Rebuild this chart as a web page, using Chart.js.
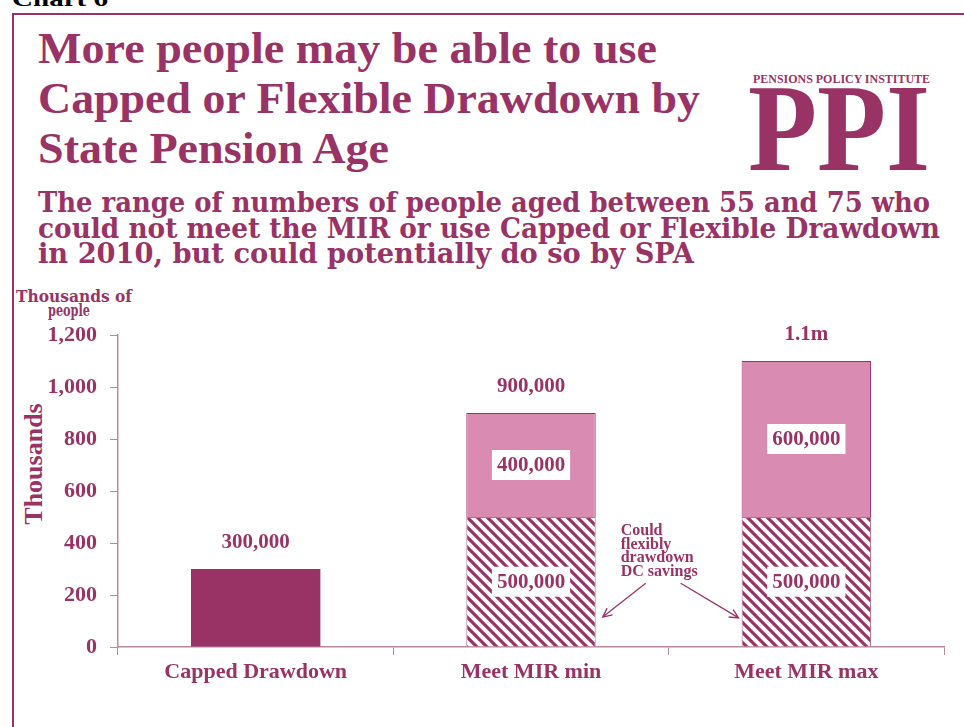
<!DOCTYPE html>
<html>
<head>
<meta charset="utf-8">
<title>Capped or Flexible Drawdown by SPA</title>
<script src="https://cdn.jsdelivr.net/npm/chart.js@4/dist/chart.umd.min.js"></script>
<style>
  html, body { margin: 0; padding: 0; background: #fff; }
  #wrap { position: relative; width: 964px; height: 727px; overflow: hidden; }
  #chart, #head { position: absolute; left: 0; top: 0; }
  .serif { font-family: "Liberation Serif", serif; font-weight: bold; }
  .sub { font-family: "DejaVu Serif", serif; font-weight: bold; }
</style>
</head>
<body>
<div id="wrap">
  <svg id="head" width="964" height="727" xmlns="http://www.w3.org/2000/svg">
    <text class="serif" x="12" y="6" font-size="22" fill="#000" textLength="96" lengthAdjust="spacingAndGlyphs">Chart 6</text>
    <path d="M13,727 V14 H964" fill="none" stroke="#993366" stroke-width="2"/>

    <g class="serif" fill="#993366" font-size="45">
      <text x="38" y="63" textLength="619" lengthAdjust="spacingAndGlyphs">More people may be able to use</text>
      <text x="38" y="113" textLength="662" lengthAdjust="spacingAndGlyphs">Capped or Flexible Drawdown by</text>
      <text x="38" y="163" textLength="351" lengthAdjust="spacingAndGlyphs">State Pension Age</text>
    </g>

    <g class="serif" fill="#993366">
      <text x="753" y="83" font-size="12" textLength="177" lengthAdjust="spacingAndGlyphs">PENSIONS POLICY INSTITUTE</text>
      <text x="748" y="170" font-size="125" textLength="182" lengthAdjust="spacingAndGlyphs">PPI</text>
    </g>

    <g class="sub" fill="#993366" font-size="27">
      <text x="38" y="212" textLength="892" lengthAdjust="spacingAndGlyphs">The range of numbers of people aged between 55 and 75 who</text>
      <text x="38" y="238" textLength="902" lengthAdjust="spacingAndGlyphs">could not meet the MIR or use Capped or Flexible Drawdown</text>
      <text x="38" y="263" textLength="656" lengthAdjust="spacingAndGlyphs">in 2010, but could potentially do so by SPA</text>
    </g>

    <g class="sub" fill="#993366" font-size="16">
      <text x="16" y="302" textLength="116" lengthAdjust="spacingAndGlyphs">Thousands of</text>
      <text x="48" y="316" textLength="42" lengthAdjust="spacingAndGlyphs">people</text>
    </g>
    <text class="serif" fill="#993366" font-size="26" text-anchor="middle"
          transform="translate(42,464) rotate(-90)">Thousands</text>
  </svg>
  <canvas id="chart" width="964" height="727"></canvas>
</div>

<script>
// values in thousands of people
const categories = ['Capped Drawdown', 'Meet MIR min', 'Meet MIR max'];
const cappedDrawdown = [300, 0, 0];
const flexibleDC = [0, 500, 500];
const meetMirOther = [0, 400, 600];
const yTicks = [0, 200, 400, 600, 800, 1000, 1200];
const noteLines = ['Could', 'flexibly', 'drawdown', 'DC savings'];

const PLUM = '#993366';
const PINK = '#d98bb1';
const AXIS = '#b8899f';
const FONT = '"Liberation Serif", serif';

function makeStripes() {
	const size = 10;
	const c = document.createElement('canvas');
	c.width = size;
	c.height = size;
	const g = c.getContext('2d');
	g.fillStyle = '#fff';
	g.fillRect(0, 0, size, size);
	g.strokeStyle = PLUM;
	g.lineWidth = 3.2;
	g.beginPath();
	g.moveTo(-2, -2); g.lineTo(size + 2, size + 2);
	g.moveTo(-2, size - 2); g.lineTo(2, size + 2);
	g.moveTo(size - 2, -2); g.lineTo(size + 2, 2);
	g.stroke();
	return g.createPattern(c, 'repeat');
}

function formatTotal(v) {
	if (v >= 1000) return (v / 1000) + 'm';
	return (v * 1000).toLocaleString('en-GB');
}

// totals above each stack, boxed figures inside the split bars
const valueLabels = {
	id: 'valueLabels',
	afterDatasetsDraw(chart) {
		const ctx = chart.ctx;
		const sets = chart.data.datasets;
		ctx.save();
		ctx.font = 'bold 21px ' + FONT;
		ctx.textAlign = 'center';
		ctx.textBaseline = 'middle';

		categories.forEach((cat, i) => {
			let total = 0;
			let topEl = null;
			sets.forEach((ds, d) => {
				const v = ds.data[i];
				if (!v) return;
				total += v;
				topEl = chart.getDatasetMeta(d).data[i];
			});
			ctx.fillStyle = PLUM;
			ctx.fillText(formatTotal(total), topEl.x, topEl.y - 26);
		});

		[1, 2].forEach(d => {
			const meta = chart.getDatasetMeta(d);
			sets[d].data.forEach((v, i) => {
				if (!v) return;
				const el = meta.data[i];
				const cy = (el.y + el.base) / 2;
				const txt = formatTotal(v);
				const w = ctx.measureText(txt).width + 10;
				ctx.fillStyle = '#fff';
				ctx.fillRect(el.x - w / 2, cy - 15, w, 30);
				ctx.fillStyle = PLUM;
				ctx.fillText(txt, el.x, cy + 1);
			});
		});
		ctx.restore();
	}
};

function arrow(ctx, x1, y1, x2, y2) {
	const a = Math.atan2(y2 - y1, x2 - x1);
	const h = 10;
	ctx.beginPath();
	ctx.moveTo(x1, y1);
	ctx.lineTo(x2, y2);
	ctx.moveTo(x2 - h * Math.cos(a - 0.45), y2 - h * Math.sin(a - 0.45));
	ctx.lineTo(x2, y2);
	ctx.lineTo(x2 - h * Math.cos(a + 0.45), y2 - h * Math.sin(a + 0.45));
	ctx.stroke();
}

// note between the two MIR bars pointing at the striped segments
const dcNote = {
	id: 'dcNote',
	afterDraw(chart) {
		const ctx = chart.ctx;
		const y = chart.scales.y;
		const meta = chart.getDatasetMeta(1);
		const left = meta.data[1];
		const right = meta.data[2];
		const leftEdge = left.x + left.width / 2;
		const rightEdge = right.x - right.width / 2;
		const tx = leftEdge + 25;
		ctx.save();
		ctx.fillStyle = PLUM;
		ctx.font = 'bold 16px ' + FONT;
		ctx.textAlign = 'left';
		ctx.textBaseline = 'alphabetic';
		noteLines.forEach((line, k) => {
			ctx.fillText(line, tx, y.getPixelForValue(430) + k * 13.5);
		});
		ctx.strokeStyle = PLUM;
		ctx.lineWidth = 1.3;
		arrow(ctx, tx + 25, y.getPixelForValue(245), leftEdge + 7, y.getPixelForValue(115));
		arrow(ctx, tx + 60, y.getPixelForValue(245), rightEdge - 3, y.getPixelForValue(112));
		ctx.restore();
	}
};

const ctx = document.getElementById('chart').getContext('2d');

new Chart(ctx, {
	type: 'bar',
	data: {
		labels: categories,
		datasets: [{
			data: cappedDrawdown,
			backgroundColor: PLUM,
			borderWidth: 0,
		}, {
			data: flexibleDC,
			backgroundColor: makeStripes(),
			borderColor: '#b5708f',
			borderWidth: 1,
		}, {
			data: meetMirOther,
			backgroundColor: PINK,
			borderColor: PLUM,
			borderWidth: 1,
		}],
	},
	options: {
		responsive: false,
		animation: false,
		events: [],
		devicePixelRatio: 1,
		layout: { padding: { top: 335, right: 20, bottom: 0, left: 0 } },
		datasets: { bar: { categoryPercentage: 1, barPercentage: 0.47 } },
		plugins: {
			legend: { display: false },
			tooltip: { enabled: false },
		},
		scales: {
			x: {
				stacked: true,
				afterFit: s => { s.height = 80; },
				border: { color: AXIS, width: 1.5 },
				grid: { drawOnChartArea: false, color: AXIS, tickLength: 8, offset: true },
				ticks: {
					color: PLUM,
					padding: 4,
					font: { family: FONT, weight: 'bold', size: 22 },
				},
			},
			y: {
				stacked: true,
				min: 0,
				max: 1200,
				afterFit: s => { s.width = 118; },
				afterBuildTicks: s => { s.ticks = yTicks.map(v => ({ value: v })); },
				border: { color: AXIS, width: 1.5 },
				grid: { drawOnChartArea: false, color: AXIS, tickLength: 8 },
				ticks: {
					color: PLUM,
					padding: 13,
					font: { family: FONT, weight: 'bold', size: 22 },
					callback: v => v.toLocaleString('en-GB'),
				},
			},
		},
	},
	plugins: [valueLabels, dcNote],
});
</script>
</body>
</html>
